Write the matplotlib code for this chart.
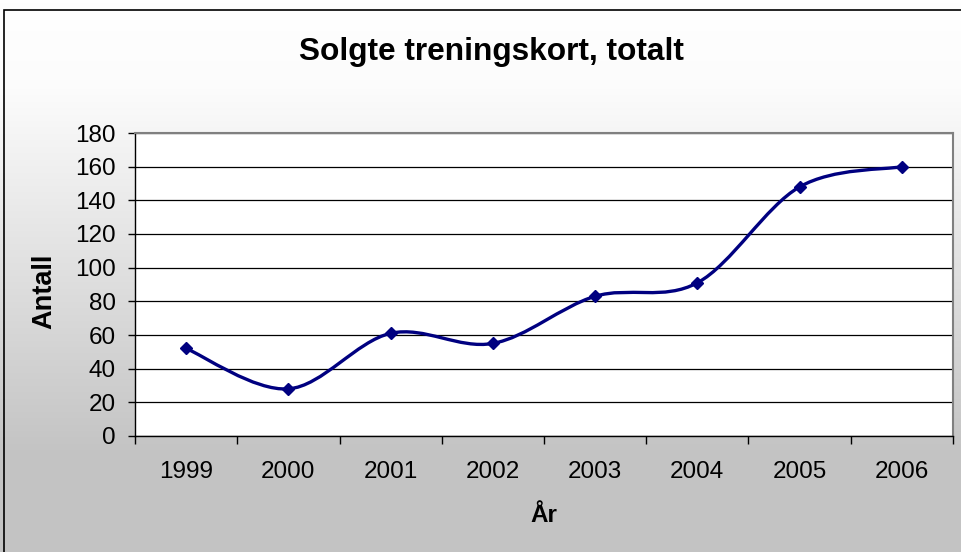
"""Solgte treningskort, totalt - Excel-style smoothed line chart."""
import numpy as np
import matplotlib.pyplot as plt
from matplotlib.colors import LinearSegmentedColormap
from matplotlib.path import Path
from matplotlib.patches import PathPatch, Rectangle

years = ["1999", "2000", "2001", "2002", "2003", "2004", "2005", "2006"]
antall = [52, 28, 61, 55, 83, 91, 148, 160]
y_ticks = [0, 20, 40, 60, 80, 100, 120, 140, 160, 180]

NAVY = "#000080"
plt.rcParams["font.family"] = ["Liberation Sans", "DejaVu Sans"]


def smooth_path(xs, ys):
    """Catmull-Rom style Bezier path through the points (like Excel's smoothed line)."""
    pts = np.column_stack([xs, ys]).astype(float)
    ext = np.vstack([pts[0], pts, pts[-1]])
    verts = [pts[0]]
    codes = [Path.MOVETO]
    for i in range(1, len(ext) - 2):
        p0, p1, p2, p3 = ext[i - 1], ext[i], ext[i + 1], ext[i + 2]
        c1 = p1 + (p2 - p0) / 6.0
        c2 = p2 - (p3 - p1) / 6.0
        verts += [c1, c2, p2]
        codes += [Path.CURVE4] * 3
    return Path(verts, codes)


fig = plt.figure(figsize=(9.62, 5.52), dpi=100)

# gradient background (white at top to grey at bottom)
bg = fig.add_axes([0, 0, 1, 1], zorder=-10)
grad = np.linspace(0, 1, 552).reshape(-1, 1)
cmap = LinearSegmentedColormap.from_list(
    "g", [(0, "#ffffff"), (0.16, "#fcfcfc"), (0.83, "#c3c3c3"), (1, "#c3c3c3")])
bg.imshow(grad, aspect="auto", cmap=cmap, extent=[0, 1, 0, 1], origin="upper")
bg.set_axis_off()
fig.patches.append(Rectangle((4 / 962, -0.01), 1.0, 1 - 10 / 552 + 0.01,
                             transform=fig.transFigure, fill=False,
                             edgecolor="black", linewidth=1.2))

ax = fig.add_axes([135 / 962, 116 / 552, 818 / 962, 303 / 552])
ax.set_facecolor("white")
xs = np.arange(len(years)) + 0.5
ax.add_patch(PathPatch(smooth_path(xs, antall), fill=False, edgecolor=NAVY,
                       linewidth=2.4, capstyle="round", joinstyle="round", zorder=3))
ax.plot(xs, antall, linestyle="none", marker="D", markersize=6,
        color=NAVY, zorder=4)

ax.set_xlim(0, len(years))
ax.set_ylim(0, 180)
ax.set_yticks(y_ticks)
ax.set_yticklabels([str(v) for v in y_ticks], fontsize=17.5)
ax.set_xticks(np.arange(len(years) + 1))
ax.set_xticklabels([])
ax.set_xticks(xs, minor=True)
ax.set_xticklabels(years, minor=True, fontsize=17.5)
ax.tick_params(axis="x", which="minor", length=0, pad=18)
ax.tick_params(axis="x", which="major", length=6, width=1, color="black")
ax.tick_params(axis="y", length=5, width=1, color="black", pad=9)
ax.grid(axis="y", color="black", linewidth=0.9)
ax.set_axisbelow(True)

for side in ("top", "right"):
    ax.spines[side].set_color("#808080")
    ax.spines[side].set_linewidth(1.5)
for side in ("left", "bottom"):
    ax.spines[side].set_color("black")
    ax.spines[side].set_linewidth(1)

fig.text(544 / 962, 1 - 516 / 552, "År", ha="center", va="center",
         fontsize=17.5, fontweight="bold")
fig.text(44 / 962, 1 - 291 / 552, "Antall", ha="center", va="center",
         rotation=90, fontsize=19.5, fontweight="bold")
fig.text(491 / 962, 1 - 52 / 552, "Solgte treningskort, totalt", ha="center",
         va="center", fontsize=22.8, fontweight="bold")

fig.savefig("out.png", dpi=100)
